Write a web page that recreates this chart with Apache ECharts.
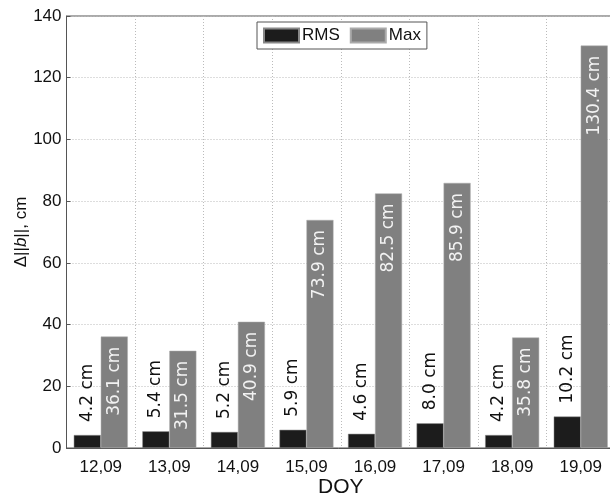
<!DOCTYPE html>
<html>
<head>
<meta charset="utf-8">
<script src="https://cdn.jsdelivr.net/npm/echarts@6/dist/echarts.min.js"></script>
<style>
  html, body { margin: 0; padding: 0; background: #fff; }
  #chart { width: 610px; height: 502px; }
</style>
</head>
<body>
<div id="chart"></div>
<script>
// Days of year (day,month) and per-day baseline length change statistics, cm
const days = ['12,09', '13,09', '14,09', '15,09', '16,09', '17,09', '18,09', '19,09'];
const rmsValues = [4.2, 5.4, 5.2, 5.9, 4.6, 8.0, 4.2, 10.2];
const maxValues = [36.1, 31.5, 40.9, 73.9, 82.5, 85.9, 35.8, 130.4];
const yTicks = [0, 20, 40, 60, 80, 100, 120, 140];

const chart = echarts.init(document.getElementById('chart'), null, { renderer: 'canvas' });

const labelFont = 'DejaVu Sans';
const axisFont = 'Liberation Sans';
const cmLabel = p => p.value.toFixed(1) + ' cm';

chart.setOption({
  backgroundColor: '#ffffff',
  animation: false,
  grid: {
    left: 66.5, right: -5, top: 16, bottom: 54,
    outerBoundsMode: 'none', containLabel: false,
    show: true, borderColor: '#555', borderWidth: 1
  },
  legend: {
    data: ['RMS', 'Max'],
    icon: 'rect',
    top: 22, left: 257,
    itemWidth: 35, itemHeight: 14, itemGap: 10,
    padding: [5, 6, 5, 6],
    backgroundColor: '#fff',
    borderColor: '#555', borderWidth: 1,
    textStyle: { fontFamily: axisFont, fontSize: 17, color: '#111', padding: [0, 0, 0, -2] }
  },
  xAxis: {
    type: 'category',
    data: days,
    name: 'DOY',
    nameLocation: 'middle',
    nameGap: 29,
    nameMoveOverlap: false,
    nameTextStyle: { fontFamily: axisFont, fontSize: 21, color: '#111' },
    axisLine: { lineStyle: { color: '#555' } },
    axisTick: { show: false, alignWithLabel: true },
    axisLabel: { fontFamily: axisFont, fontSize: 17, color: '#111', margin: 11 },
    splitLine: { show: true, interval: 0, lineStyle: { color: '#bbb', type: [1, 2] } }
  },
  yAxis: {
    type: 'value',
    min: yTicks[0], max: yTicks[yTicks.length - 1], interval: 20,
    name: '{a|Δ||}{b|b}{a|||, cm}',
    nameLocation: 'middle',
    nameGap: 37,
    nameMoveOverlap: false,
    nameRotate: 90,
    nameTextStyle: {
      rich: {
        a: { fontFamily: axisFont, fontSize: 17, color: '#111' },
        b: { fontFamily: axisFont, fontSize: 17, color: '#111', fontStyle: 'italic' }
      }
    },
    axisLine: { show: true, lineStyle: { color: '#555' } },
    axisTick: { show: true, inside: true, length: 4, lineStyle: { color: '#555' } },
    axisLabel: { fontFamily: axisFont, fontSize: 17, color: '#111', margin: 5 },
    splitLine: { show: true, lineStyle: { color: '#bbb', type: [1, 2] } }
  },
  series: [
    {
      name: 'RMS', type: 'bar', data: rmsValues,
      barWidth: 27, barGap: '0%',
      itemStyle: { color: '#1c1c1c', borderColor: '#888', borderWidth: 0.5 },
      label: {
        show: true, position: 'top', rotate: 90, align: 'left', verticalAlign: 'middle',
        distance: 13, formatter: cmLabel,
        fontFamily: labelFont, fontSize: 17, color: '#111'
      }
    },
    {
      name: 'Max', type: 'bar', data: maxValues,
      barWidth: 27,
      itemStyle: { color: '#808080', borderColor: '#aaa', borderWidth: 0.5 },
      label: {
        show: true, position: 'insideTop', rotate: 90, align: 'right', verticalAlign: 'middle',
        distance: 10, formatter: cmLabel,
        fontFamily: labelFont, fontSize: 17, color: '#f2f2f2'
      }
    }
  ]
});
</script>
</body>
</html>
